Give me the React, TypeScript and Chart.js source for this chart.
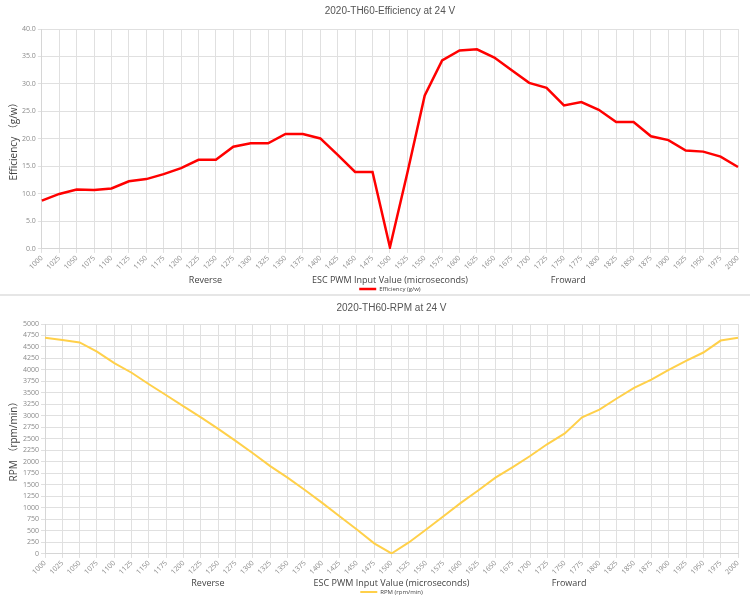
import React, { useEffect, useRef } from 'react';
import { Chart, registerables } from 'chart.js';

Chart.register(...registerables);

const pwmLabels = [
  '1000', '1025', '1050', '1075', '1100', '1125', '1150', '1175', '1200', '1225',
  '1250', '1275', '1300', '1325', '1350', '1375', '1400', '1425', '1450', '1475',
  '1500', '1525', '1550', '1575', '1600', '1625', '1650', '1675', '1700', '1725',
  '1750', '1775', '1800', '1825', '1850', '1875', '1900', '1925', '1950', '1975', '2000',
];

const efficiency = [
  8.8, 10.0, 10.8, 10.7, 11.0, 12.3, 12.7, 13.6, 14.7, 16.2,
  16.2, 18.6, 19.2, 19.2, 20.9, 20.9, 20.1, 17.1, 14.0, 14.0,
  0.3, 13.8, 27.9, 34.3, 36.1, 36.3, 34.8, 32.5, 30.2, 29.3,
  26.1, 26.7, 25.3, 23.1, 23.1, 20.5, 19.8, 17.9, 17.7, 16.8, 14.9,
];

const rpm = [
  4700, 4650, 4600, 4400, 4150, 3940, 3690, 3450, 3210, 2970,
  2720, 2460, 2190, 1910, 1660, 1390, 1110, 820, 530, 230,
  10, 250, 530, 820, 1110, 1380, 1660, 1890, 2130, 2390,
  2620, 2970, 3140, 3380, 3610, 3790, 4000, 4200, 4380, 4640, 4700,
];

const xTitle = 'ESC PWM Input Value (microseconds)';
const sideLeft = 'Reverse';
const sideRight = 'Froward';

const FONT = '"Open Sans", "Noto Sans CJK SC", sans-serif';
const X_TITLE_SIZE = 9;
const X_TITLE_PAD_BOTTOM = 0;

const sideLabelsPlugin = {
  id: 'sideLabels',
  afterDraw(chart: any) {
    const xs = chart.scales.x;
    const ctx = chart.ctx;
    const lh = X_TITLE_SIZE * 1.2;
    const y = xs.bottom - X_TITLE_PAD_BOTTOM - lh / 2;
    ctx.save();
    ctx.font = `${X_TITLE_SIZE}px ${FONT}`;
    ctx.fillStyle = '#444444';
    ctx.textAlign = 'center';
    ctx.textBaseline = 'middle';
    ctx.fillText(sideLeft, xs.getPixelForValue(9.4), y);
    ctx.fillText(sideRight, xs.getPixelForValue(30.25), y);
    ctx.restore();
  },
};

type Cfg = {
  title: string;
  yTitle: string;
  label: string;
  data: number[];
  color: string;
  width: number;
  max: number;
  step: number;
  decimals: number;
  titlePadBottom: number;
  yTitlePadBottom: number;
  xTitlePadTop: number;
  bottomPad: number;
};

function LineChart({ cfg, height }: { cfg: Cfg; height: number }) {
  const ref = useRef<HTMLCanvasElement | null>(null);
  useEffect(() => {
    if (!ref.current) return;
    const chart = new Chart(ref.current, {
      type: 'line',
      data: {
        labels: pwmLabels,
        datasets: [
          {
            label: cfg.label,
            data: cfg.data,
            borderColor: cfg.color,
            backgroundColor: cfg.color,
            borderWidth: cfg.width,
            pointRadius: 0,
            tension: 0,
            fill: false,
          },
        ],
      },
      options: {
        animation: false,
        responsive: true,
        maintainAspectRatio: false,
        layout: { padding: { left: 6, right: 12, top: 0, bottom: cfg.bottomPad } },
        plugins: {
          title: {
            display: true,
            text: cfg.title,
            fullSize: false,
            color: '#555555',
            font: { family: '"Liberation Sans", Arial, sans-serif', size: 10, weight: 'normal' },
            padding: { top: 5, bottom: cfg.titlePadBottom },
          },
          legend: {
            display: true,
            position: 'bottom',
            fullSize: false,
            labels: {
              usePointStyle: true,
              pointStyle: 'line',
              pointStyleWidth: 17,
              boxHeight: 6,
              padding: 0,
              color: '#444444',
              font: { family: FONT, size: 6 },
            },
          },
          tooltip: { enabled: false },
        },
        scales: {
          x: {
            grid: { color: '#e0e0e0', lineWidth: 1, tickLength: 4 },
            border: { color: '#d6d6d6' },
            ticks: {
              autoSkip: false,
              maxRotation: 45,
              minRotation: 45,
              color: '#8a8a8a',
              font: { family: FONT, size: 7 },
              padding: 1,
            },
            title: {
              display: true,
              text: xTitle,
              color: '#444444',
              font: { family: FONT, size: X_TITLE_SIZE },
              padding: { top: cfg.xTitlePadTop, bottom: X_TITLE_PAD_BOTTOM },
            },
          },
          y: {
            min: 0,
            max: cfg.max,
            grid: { color: '#e0e0e0', lineWidth: 1, tickLength: 4 },
            border: { color: '#d6d6d6' },
            ticks: {
              stepSize: cfg.step,
              color: '#8a8a8a',
              font: { family: FONT, size: 7 },
              padding: 2,
              callback: (v: any) => Number(v).toFixed(cfg.decimals),
            },
            title: {
              display: true,
              text: cfg.yTitle,
              color: '#444444',
              font: { family: FONT, size: 10 },
              padding: { top: 2, bottom: cfg.yTitlePadBottom },
            },
          },
        },
      },
      plugins: [sideLabelsPlugin],
    });
    return () => chart.destroy();
  }, [cfg]);
  return (
    <div style={{ position: 'relative', width: 750, height }}>
      <canvas ref={ref} />
    </div>
  );
}

const effCfg: Cfg = {
  title: '2020-TH60-Efficiency at 24 V',
  yTitle: 'Efficiency （g/w）',
  label: 'Efficiency (g/w)',
  data: efficiency,
  color: '#ff0000',
  width: 2.5,
  max: 40,
  step: 5,
  decimals: 1,
  titlePadBottom: 12,
  yTitlePadBottom: 0,
  xTitlePadTop: 3,
  bottomPad: -9,
};

const rpmCfg: Cfg = {
  title: '2020-TH60-RPM at 24 V',
  yTitle: 'RPM （rpm/min）',
  label: 'RPM (rpm/min)',
  data: rpm,
  color: '#ffd04a',
  width: 2,
  max: 5000,
  step: 250,
  decimals: 0,
  titlePadBottom: 10,
  yTitlePadBottom: 1,
  xTitlePadTop: 1,
  bottomPad: -7,
};

export default function App() {
  return (
    <div style={{ position: 'absolute', left: 0, top: 0, width: 750, height: 598, background: '#ffffff' }}>
      <LineChart cfg={effCfg} height={293} />
      <div style={{ height: 4, position: 'relative' }}>
        <div style={{ position: 'absolute', left: 0, right: 0, top: 1, height: 2, background: '#e6e6e6' }} />
      </div>
      <LineChart cfg={rpmCfg} height={301} />
    </div>
  );
}
